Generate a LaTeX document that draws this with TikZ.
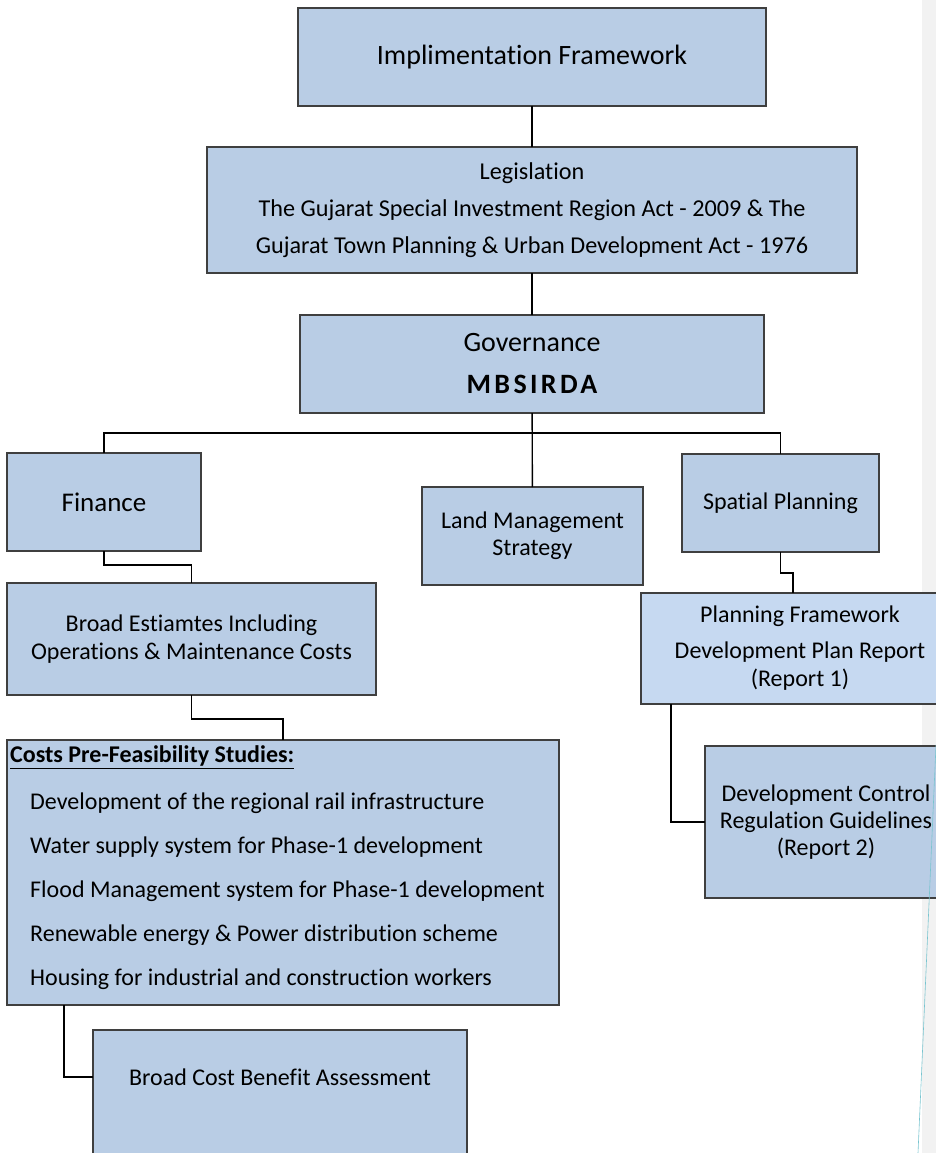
\documentclass[tikz,border=0pt]{standalone}
\usepackage{fontspec}
\setmainfont{Carlito}[Ligatures=NoCommon,Contextuals=NoAlternate]
\usepackage{tikz}
\usetikzlibrary{positioning}

\definecolor{boxfill}{HTML}{B9CDE5}
\definecolor{boxfilllight}{HTML}{C6D9F1}
\definecolor{boxline}{HTML}{3F3F3F}
\definecolor{sidebar}{HTML}{F2F2F2}
\definecolor{stray}{HTML}{79C4CF}

\begin{document}
\begin{tikzpicture}[x=1pt,y=-1pt,
	box/.style={draw=boxline,fill=boxfill,line width=1.2pt,inner sep=0pt,outer sep=0pt,align=center,font=\fontsize{24}{27}\selectfont},
	link/.style={line width=1.4pt},
	item/.style={anchor=west,inner sep=0pt,font=\fontsize{24}{27}\selectfont}]
	\useasboundingbox (0,0) rectangle (936,1153);
	\fill[sidebar] (922,0) rectangle (936,1153);

	\node[box,minimum width=468,minimum height=98,font=\fontsize{28}{34}\selectfont] (impl) at (532,57) {Implimentation Framework};
	\node[box,minimum width=650,minimum height=126,font=\fontsize{24.2}{37}\selectfont] (leg) at (532,210)
		{Legislation\\The Gujarat Special Investment Region Act - 2009 \& The\\Gujarat Town Planning \& Urban Development Act - 1976};
	\node[box,minimum width=464,minimum height=98,font=\fontsize{28}{42}\selectfont] (gov) at (532,364)
		{Governance\\{\bfseries\addfontfeatures{LetterSpace=12}MBSIRDA}};
	\node[box,minimum width=194,minimum height=98,font=\fontsize{27}{32}\selectfont] (fin) at (104,502) {Finance};
	\node[box,minimum width=221,minimum height=98] (land) at (532.5,536) {Land Management\\Strategy};
	\node[box,minimum width=197,minimum height=98] (spat) at (780.5,503) {Spatial Planning};
	\node[box,minimum width=369,minimum height=112,font=\fontsize{24}{28}\selectfont] (est) at (191.5,639)
		{Broad Estiamtes Including\\Operations \& Maintenance Costs};
	\node[box,fill=boxfilllight,minimum width=318,minimum height=111,font=\fontsize{24}{28}\selectfont] (plan) at (800,648.5)
		{Planning Framework\\[8pt]Development Plan Report\\(Report 1)};
	\node[box,minimum width=242,minimum height=152] (dev) at (826,822)
		{Development Control\\Regulation Guidelines\\(Report 2)};
	\node[box,minimum width=552,minimum height=265] (costs) at (283,872.5) {};
	\node[item,font=\fontsize{24}{27}\selectfont\bfseries] (costs_hd) at (10,757) {\underline{Costs Pre-Feasibility Studies:}};
	\foreach \txt [count=\i] in {Development of the regional rail infrastructure,
		Water supply system for Phase-1 development,
		Flood Management system for Phase-1 development,
		Renewable energy \& Power distribution scheme,
		Housing for industrial and construction workers}
		\node[item] (costs_\i) at (30,759+44*\i) {\txt};
	\node[box,minimum width=374,minimum height=150] (ben) at (280,1105) {};
	\node[item,anchor=center] (ben_txt) at (280,1077) {Broad Cost Benefit Assessment};

	\coordinate (bus) at (532,433);
	\draw[link] (impl) -- (leg);
	\draw[link] (leg) -- (gov);
	\draw[link] (gov) -- (land);
	\draw[link] (fin.north) |- (bus) -| (spat.north);
	\draw[link] (fin.south) -- ++(0,14) -| (est.north);
	\draw[link] (est.south) -- ++(0,24) -| (costs.north);
	\draw[link] ([xshift=57pt]costs.south west) |- ([yshift=28pt]ben.west);
	\draw[link] (spat.south) -- ++(0,21) -| ([xshift=-7pt]plan.north);
	\draw[link] ([xshift=30pt]plan.south west) |- (dev.west);

	\draw[stray,line width=0.6pt] (936,745) -- (918,1153);
\end{tikzpicture}
\end{document}
